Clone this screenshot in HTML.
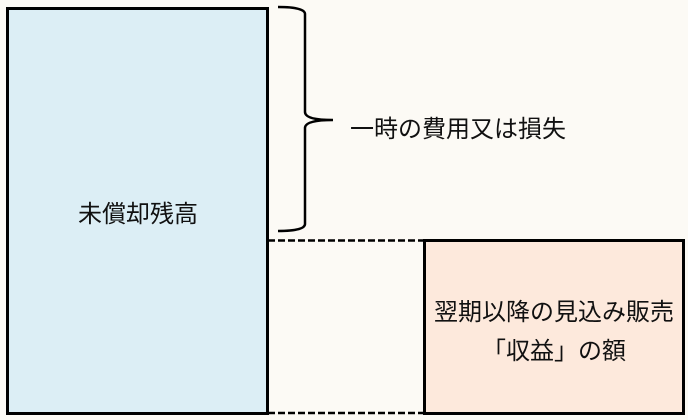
<!DOCTYPE html>
<html><head><meta charset="utf-8"><style>
body{margin:0;width:688px;height:420px;background:#fcfaf5;overflow:hidden;font-family:"Liberation Sans","Noto Sans CJK JP",sans-serif;}
</style></head><body>
<svg width="688" height="420" style="position:absolute;left:0;top:0">
<rect x="0" y="0" width="688" height="420" fill="#fcfaf5"/>
<rect x="7.5" y="8.5" width="260" height="405" fill="#dceef5" stroke="#000" stroke-width="3"/>
<rect x="424.5" y="240.5" width="259" height="173" fill="#fde9dc" stroke="#000" stroke-width="3"/>
<line x1="268" y1="240.5" x2="424" y2="240.5" stroke="#000" stroke-width="2.5" stroke-dasharray="7,3"/>
<line x1="268" y1="413" x2="424" y2="413" stroke="#000" stroke-width="2.5" stroke-dasharray="7,3"/>
<path d="M278 7 Q305 7 305 14 L305 112 Q305 120 333 120 Q305 120 305 128 L305 224 Q305 231 278 231" fill="none" stroke="#000" stroke-width="2.5"/>
<g font-size="24" fill="#111" font-family="Liberation Sans, Noto Sans CJK JP, sans-serif">
<text x="350" y="137">一時の費用又は損失</text>
<text x="138" y="222" text-anchor="middle">未償却残高</text>
<text x="554" y="320" text-anchor="middle">翌期以降の見込み販売</text>
<text x="554" y="359" text-anchor="middle">「収益」の額</text>
</g>
</svg>
</body></html>
